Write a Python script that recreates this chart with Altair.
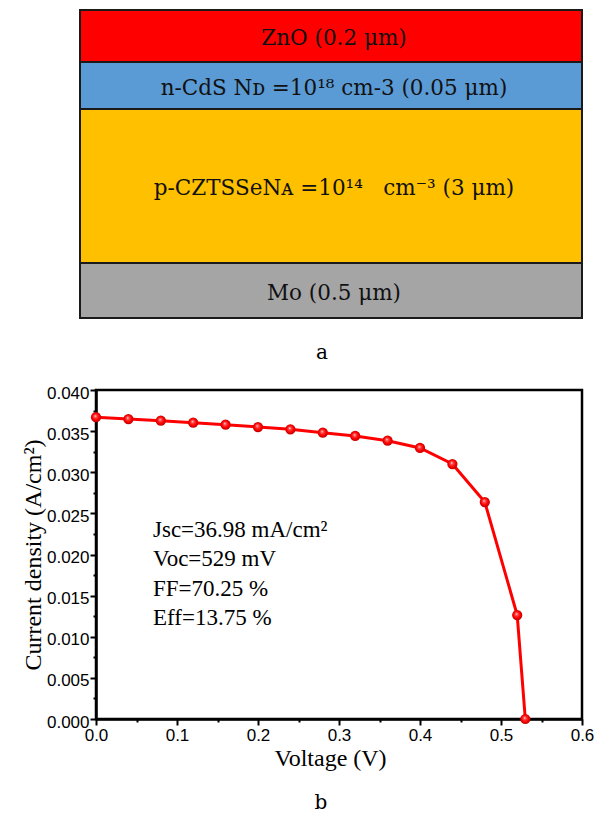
import altair as alt
import pandas as pd

# ---- Device stack, listed from the top layer down ----
stack_labels = [
    "ZnO (0.2 μm)",
    "n-CdS N\u1d05 =10¹⁸ cm-3 (0.05 μm)",
    "p-CZTSSeN\u1d00 =10¹⁴\u00a0\u00a0 cm⁻³ (3 μm)",
    "Mo (0.5 μm)",
]
stack_colors = ["#FF0000", "#5B9BD5", "#FFC000", "#A5A5A5"]
# schematic band heights of the sketch (the drawing is not to scale)
stack_share = [52, 47, 154, 55]

# ---- Simulated J-V curve ----
voltage = [0.00, 0.04, 0.08, 0.12, 0.16, 0.20, 0.24, 0.28, 0.32, 0.36,
           0.40, 0.44, 0.48, 0.52, 0.53]
current = [0.0367, 0.03647, 0.03627, 0.03603, 0.03578, 0.0355, 0.03522,
           0.03481, 0.03441, 0.03384, 0.03295, 0.0310, 0.02638, 0.01264, 0.0]

x_ticks = [0.0, 0.05, 0.1, 0.15, 0.2, 0.25, 0.3, 0.35, 0.4, 0.45, 0.5, 0.55, 0.6]
y_ticks = [0.0, 0.0025, 0.005, 0.0075, 0.01, 0.0125, 0.015, 0.0175, 0.02,
           0.0225, 0.025, 0.0275, 0.03, 0.0325, 0.035, 0.0375, 0.04]

metrics = ["Jsc=36.98 mA/cm²", "Voc=529 mV", "FF=70.25 %", "Eff=13.75 %"]

SERIF = "Liberation Serif"
SANS = "Liberation Sans"
BOX_FONT = "DejaVu Serif"

# ---------- panel a: layer stack ----------
edges = [0]
for h in stack_share:
    edges.append(edges[-1] + h)
stack = pd.DataFrame({
    "label": stack_labels,
    "color": stack_colors,
    "top": edges[:-1],
    "bottom": edges[1:],
    "mid": [(a + b) / 2 for a, b in zip(edges[:-1], edges[1:])],
    "left": 0.0,
    "right": 1.0,
    "center": 0.5,
})

sx = alt.Scale(domain=[0, 1], range=[-16, 486])
sy = alt.Scale(domain=[0, edges[-1]], range=[-380, -72])

bands = alt.Chart(stack).mark_rect(stroke="#1a1a1a", strokeWidth=2).encode(
    x=alt.X("left:Q", scale=sx, axis=None),
    x2="right:Q",
    y=alt.Y("top:Q", scale=sy, axis=None),
    y2="bottom:Q",
    fill=alt.Fill("color:N", scale=None, legend=None),
)
band_text = alt.Chart(stack).mark_text(
    font=BOX_FONT, fontSize=21.5, color="#111111", dx=3, dy=3
).encode(
    x=alt.X("center:Q", scale=sx, axis=None),
    y=alt.Y("mid:Q", scale=sy, axis=None),
    text="label:N",
)
diagram = alt.layer(bands, band_text)

# ---------- panel b: J-V curve ----------
jv = pd.DataFrame({"V": voltage, "J": current})

major_x = "abs(datum.value*10 - round(datum.value*10)) < 1e-6"
major_y = "abs(datum.value*200 - round(datum.value*200)) < 1e-6"

x_axis = alt.Axis(
    values=x_ticks, grid=False, title="Voltage (V)",
    labelExpr=f"{major_x} ? format(datum.value, '.1f') : ''",
    tickSize={"expr": f"{major_x} ? 6 : 3"},
    labelFont=SANS, labelFontSize=17, labelColor="black", labelPadding=2,
    labelFlush=False, labelOverlap=False,
    titleFont=SERIF, titleFontSize=24, titleFontWeight="normal",
    titleColor="black", titlePadding=3, titleX=234,
    domainColor="black", domainWidth=2.5, tickColor="black", tickWidth=2,
)
y_axis = alt.Axis(
    values=y_ticks, grid=False, title="Current density (A/cm²)",
    labelExpr=f"{major_y} ? format(datum.value, '.3f') : ''",
    tickSize={"expr": f"{major_y} ? 6 : 3"},
    labelFont=SANS, labelFontSize=17, labelColor="black", labelPadding=1,
    labelFlush=False, labelOverlap=False, labelOffset=3,
    titleFont=SERIF, titleFontSize=24, titleFontWeight="normal",
    titleColor="black", titlePadding=1,
    domainColor="black", domainWidth=2.5, tickColor="black", tickWidth=2,
)

vx = alt.Scale(domain=[0, 0.6], nice=False, zero=False)
vy = alt.Scale(domain=[0, 0.04], nice=False)

curve = alt.Chart(jv).mark_line(color="#FF0000", strokeWidth=3).encode(
    x=alt.X("V:Q", scale=vx, axis=x_axis),
    y=alt.Y("J:Q", scale=vy, axis=y_axis),
)
ball = {
    "gradient": "radial",
    "x1": 0.42, "y1": 0.38, "r1": 0.0,
    "x2": 0.5, "y2": 0.5, "r2": 0.55,
    "stops": [
        {"offset": 0.0, "color": "#ffffff"},
        {"offset": 0.22, "color": "#ff5050"},
        {"offset": 0.6, "color": "#ff0000"},
        {"offset": 1.0, "color": "#b00000"},
    ],
}
dots = alt.Chart(jv).mark_point(
    shape="circle", filled=True, fill=ball, size=105, opacity=1, strokeWidth=0
).encode(
    x=alt.X("V:Q", scale=vx, axis=x_axis),
    y=alt.Y("J:Q", scale=vy, axis=y_axis),
)

notes = alt.Chart(pd.DataFrame({"t": ["\n".join(metrics)]})).mark_text(
    font=SERIF, fontSize=23, color="black", align="left",
    baseline="alphabetic", lineBreak="\n", lineHeight=29.3,
).encode(text="t:N", x=alt.value(57), y=alt.value(147))

panel_a = alt.Chart(pd.DataFrame({"t": ["a"]})).mark_text(
    font=BOX_FONT, fontSize=20, color="black"
).encode(text="t:N", x=alt.value(226), y=alt.value(-37))
panel_b = alt.Chart(pd.DataFrame({"t": ["b"]})).mark_text(
    font=BOX_FONT, fontSize=20, color="black"
).encode(text="t:N", x=alt.value(225), y=alt.value(413))

jv_panel = alt.layer(curve, dots, notes, panel_a, panel_b)

chart = alt.layer(diagram, jv_panel).resolve_scale(
    x="independent", y="independent"
).properties(
    width=486, height=329,
    autosize=alt.AutoSizeParams(type="none"),
    padding={"left": 96, "top": 390, "right": 13, "bottom": 97},
    background="white",
).configure_view(stroke="black", strokeWidth=2.5)

chart.save("out.html", embed_options={"renderer": "svg", "actions": False})
